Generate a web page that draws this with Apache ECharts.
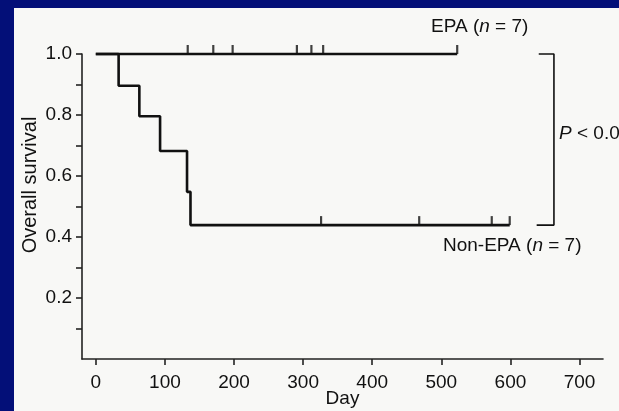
<!DOCTYPE html>
<html>
<head>
<meta charset="utf-8">
<script src="https://cdn.jsdelivr.net/npm/echarts@6/dist/echarts.min.js"></script>
<style>
  html, body { margin: 0; padding: 0; background: #030f78; }
  #chart { width: 619px; height: 411px; }
</style>
</head>
<body>
<div id="chart"></div>
<script>
// 数据
var xTicks = [0, 100, 200, 300, 400, 500, 600, 700];
var yTicks = [0.1, 0.2, 0.3, 0.4, 0.5, 0.6, 0.7, 0.8, 0.9, 1.0];
var yLabels = [0.2, 0.4, 0.6, 0.8, 1.0];
// 生存曲线 [天, 生存率]
var epaCurve = [[0, 1], [523, 1]];
var nonEpaCurve = [[0, 1], [33, 0.896], [63, 0.796], [93, 0.682], [132, 0.548], [137, 0.439], [599, 0.439]];
// 删失标记
var epaCensor = [133, 170, 198, 291, 312, 329, 523];
var nonEpaCensor = [326, 468, 573, 599];
// P值括号
var bracket = [[641, 1], [663, 1], [663, 0.439], [638, 0.439]];

(function(){
  var myChart = echarts.init(document.getElementById('chart'));
  var ink = '#111';
  var font = '"Liberation Sans", Arial, sans-serif';

  var option = {
    backgroundColor: '#030f78',
    animation: false,
    textStyle: { fontFamily: font },
    graphic: [
      // 白色面板
      { type: 'rect', z: -10, left: 14, top: 8, shape: { width: 605, height: 403 }, style: { fill: '#f8f8f6' } },
      { type: 'text', left: 431, top: 17, style: { text: 'EPA ({i|n} = 7)', fontSize: 19, fontFamily: font, fill: ink,
          rich: { i: { fontStyle: 'italic', fontSize: 19, fontFamily: font, fill: ink } } } },
      { type: 'text', left: 443, top: 236, style: { text: 'Non-EPA ({i|n} = 7)', fontSize: 19, fontFamily: font, fill: ink,
          rich: { i: { fontStyle: 'italic', fontSize: 19, fontFamily: font, fill: ink } } } },
      { type: 'text', left: 559, top: 124, style: { text: '{i|P} < 0.0', fontSize: 19, fontFamily: font, fill: ink,
          rich: { i: { fontStyle: 'italic', fontSize: 19, fontFamily: font, fill: ink } } } },
      { type: 'text', x: 30, y: 185, rotation: Math.PI / 2,
        style: { text: 'Overall survival', fontSize: 20, fontFamily: font, fill: ink, align: 'center', verticalAlign: 'middle' } }
    ],
    grid: { left: 82, right: 16, top: 54, bottom: 52, outerBoundsMode: 'none' },
    xAxis: {
      type: 'value',
      min: -20,
      max: 734,
      name: 'Day',
      nameLocation: 'middle',
      nameGap: 30,
      nameMoveOverlap: false,
      nameTextStyle: { fontSize: 19, color: ink, fontFamily: font, verticalAlign: 'top' },
      splitLine: { show: false },
      axisLine: { show: true, onZero: false, lineStyle: { color: '#222', width: 1.6 } },
      axisTick: { show: true, length: 6, customValues: xTicks, lineStyle: { color: '#222', width: 1.6 } },
      axisLabel: { customValues: xTicks, margin: 14, fontSize: 19, color: ink, fontFamily: font }
    },
    yAxis: {
      type: 'value',
      min: 0,
      max: 1,
      splitLine: { show: false },
      axisLine: { show: true, onZero: false, lineStyle: { color: '#222', width: 1.6 } },
      axisTick: { show: true, length: 6, customValues: yTicks, lineStyle: { color: '#222', width: 1.6 } },
      axisLabel: { customValues: yLabels, margin: 10, fontSize: 19, color: ink, fontFamily: font,
        formatter: function (v) { return v.toFixed(1); } }
    },
    series: [
      {
        name: 'EPA', type: 'line', step: 'end', data: epaCurve, symbol: 'none', clip: false,
        lineStyle: { color: ink, width: 2.6 }
      },
      {
        name: 'Non-EPA', type: 'line', step: 'end', data: nonEpaCurve, symbol: 'none', clip: false,
        lineStyle: { color: ink, width: 2.6 }
      },
      {
        type: 'scatter', clip: false, symbol: 'rect', symbolSize: [2.2, 9], symbolOffset: [0, '-50%'],
        itemStyle: { color: ink },
        data: epaCensor.map(function (d) { return [d, 1]; })
      },
      {
        type: 'scatter', clip: false, symbol: 'rect', symbolSize: [2.2, 9], symbolOffset: [0, '-50%'],
        itemStyle: { color: ink },
        data: nonEpaCensor.map(function (d) { return [d, 0.439]; })
      },
      {
        type: 'line', data: bracket, symbol: 'none', clip: false,
        lineStyle: { color: ink, width: 1.6 }
      }
    ]
  };

  myChart.setOption(option);
  window.addEventListener('resize', function(){
    myChart.resize();
  });
})();
</script>
</body>
</html>
